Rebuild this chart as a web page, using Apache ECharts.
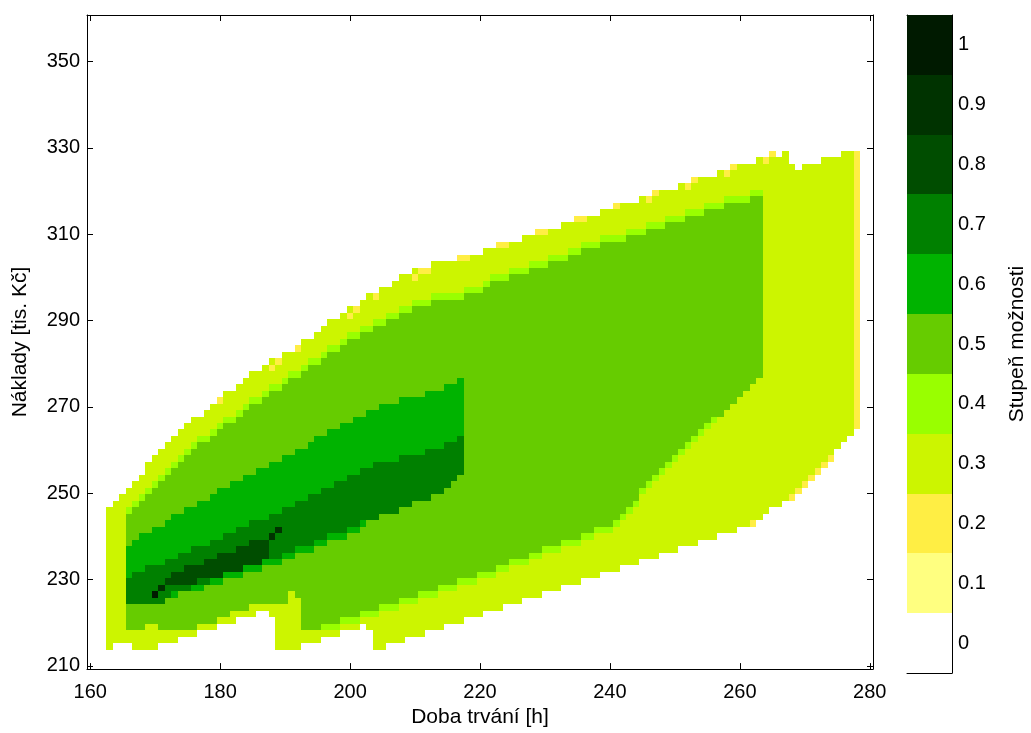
<!DOCTYPE html>
<html>
<head>
<meta charset="utf-8">
<script src="https://cdn.jsdelivr.net/npm/echarts@6/dist/echarts.min.js"></script>
<style>
  html, body { margin: 0; padding: 0; background: #ffffff; }
  #chart { width: 1031px; height: 733px; }
</style>
</head>
<body>
<div id="chart"></div>
<script>
// Possibility surface sampled on a regular grid:
// duration 160..280 h in steps of 1, cost 210..360 (tis. Kč) in steps of 1.5
const durationGrid = [160, 280, 1];
const costGrid = [210, 360, 1.5];

const xTicks = [160, 180, 200, 220, 240, 260, 280];
const yTicks = [210, 230, 250, 270, 290, 310, 330, 350];

const levels = [0, 0.1, 0.2, 0.3, 0.4, 0.5, 0.6, 0.7, 0.8, 0.9, 1];
const levelLabels = ['0', '0.1', '0.2', '0.3', '0.4', '0.5', '0.6', '0.7', '0.8', '0.9', '1'];
const levelColors = ['#ffffff', '#ffff80', '#ffee44', '#ccf500', '#99ff00', '#66cc00',
                     '#00b300', '#008000', '#004d00', '#003300', '#001a00'];

// Outlines [duration, cost] of the areas where the possibility reaches a level
const area02 = [[277.5, 264.75], [278.5, 264.75], [278.5, 329.25], [277.5, 329.25]];

const area03 = [
  [162.5, 213.75], [163.5, 213.75], [163.5, 215.25], [166.5, 215.25], [166.5, 213.75],
  [170.5, 213.75], [170.5, 215.25], [173.5, 215.25], [173.5, 216.75], [176.5, 216.75],
  [176.5, 218.25], [179.5, 218.25], [179.5, 219.75], [182.5, 219.75], [182.5, 221.25],
  [185.5, 221.25], [185.5, 222.75], [187.5, 222.75], [187.5, 221.25], [188.5, 221.25],
  [188.5, 213.75], [192.5, 213.75], [192.5, 215.25], [195.5, 215.25], [195.5, 216.75],
  [198.5, 216.75], [198.5, 218.25], [201.5, 218.25], [201.5, 219.75], [202.5, 219.75],
  [202.5, 218.25], [203.5, 218.25], [203.5, 213.75], [205.5, 213.75], [205.5, 214.5],
  [261.5, 242.5], [261.5, 242.25], [262.5, 242.25], [262.5, 243.75], [263.5, 243.75],
  [263.5, 245.25], [264.5, 245.25], [264.5, 246.75], [266.5, 246.75], [266.5, 247.5],
  [277.5, 264], [277.5, 329.25], [275.5, 329.25], [275.5, 327.75], [272.5, 327.75],
  [272.5, 326.25], [269.5, 326.25], [269.5, 324.75], [268.5, 324.75], [268.5, 326.25],
  [267.5, 326.25], [267.5, 329.25], [266.5, 329.25], [266.5, 327.75], [262.5, 327.75],
  [262.5, 326.25], [261, 326.25], [255, 323.25], [249, 320.25], [243, 317.25],
  [237, 314.25], [231, 311.25], [225, 308.25], [219, 305.25], [211, 302.25],
  [207, 299.25], [199, 291.75], [192, 284.25], [187, 279.75], [179, 270.75],
  [174, 264.75], [170, 258.75], [168, 254.25], [165, 249.75], [163, 246.75], [162.5, 246.75]
];

const area04 = [
  [165.5, 218.25], [168.5, 218.25], [168.5, 219.75], [170.5, 219.75], [170.5, 218.25],
  [176.5, 218.25], [176.5, 219.75], [179.5, 219.75], [179.5, 221.25], [181.5, 221.25],
  [181.5, 222.75], [184.5, 222.75], [184.5, 224.25], [190.5, 224.25], [190.5, 227.25],
  [191.5, 227.25], [191.5, 225.75], [192.5, 225.75], [192.5, 217.5], [195.5, 219.0],
  [195.5, 217.5], [219.5, 229.5], [241.5, 242.1], [242.5, 245.0], [252.5, 261.0],
  [263.5, 276.75], [263.5, 320.25], [259, 318.75], [257, 317.25], [253, 315.75],
  [251, 314.25], [247, 312.75], [245, 311.25], [241, 309.75], [237, 308.25],
  [235, 306.75], [233, 305.25], [229, 303.75], [223, 300.75], [221, 299.25],
  [220, 297.75], [210, 294.75], [199, 285.75], [187, 273.75], [176, 261.75],
  [166, 246.75], [165.5, 246.75]
];

const area05 = [
  [165.5, 218.25], [168.5, 218.25], [168.5, 219.75], [170.5, 219.75], [170.5, 218.25],
  [176.5, 218.25], [176.5, 219.75], [179.5, 219.75], [179.5, 221.25], [181.5, 221.25],
  [181.5, 222.75], [184.5, 222.75], [184.5, 224.25], [190.5, 224.25], [190.5, 227.25],
  [191.5, 227.25], [191.5, 225.75], [192.5, 225.75], [192.5, 217.5], [219.5, 231.0],
  [241.5, 243.6], [242.5, 246.5], [252.5, 262.5], [263.5, 276.75], [263.5, 318.75],
  [259, 317.25], [257, 315.75], [253, 314.25], [251, 312.75], [247, 311.25],
  [245, 309.75], [241, 308.25], [237, 306.75], [235, 305.25], [233, 303.75],
  [229, 302.25], [223, 299.25], [221, 297.75], [220, 296.25], [210, 293.25],
  [199, 284.25], [187, 272.25], [176, 260.25], [166, 245.25], [165.5, 245.25]
];

const area06 = [
  [165.5, 224.25], [165.5, 237.75], [170, 242], [180, 250.5], [190, 258.5],
  [200, 266.5], [205, 270.75], [210, 272.25], [214, 273.75], [216, 275.25],
  [217.5, 276.75], [217.5, 254.25], [214, 250.5], [205, 245], [200, 240.5],
  [190, 234.5], [180, 229], [172, 225.75], [171.5, 224.25]
];

const area07 = [
  [165.5, 224.25], [165.5, 230.25], [175, 236.5], [185, 243], [195, 250],
  [205, 257.25], [210, 258.75], [214, 260.25], [216, 261.75], [217.5, 263.25],
  [217.5, 254.25], [216.5, 252.75], [214, 250], [208, 246.5], [200, 242],
  [190, 236], [180, 230.5], [172, 226], [171.5, 224.25]
];

const area08 = [
  [171.5, 228.5], [171.5, 230.25], [179.5, 235.5], [187.5, 240.0],
  [187.5, 234.5], [179.5, 230.5], [173.5, 228.5]
];

// Single cells whose possibility differs from the surrounding area
const spotCells = [
  [180, 271.5, 0.2], [188, 279, 0.2], [189, 280.5, 0.2], [192, 283.5, 0.2],
  [200, 291, 0.2], [201, 292.5, 0.2], [204, 295.5, 0.2], [210, 300, 0.2],
  [211, 301.5, 0.2], [212, 301.5, 0.2], [217, 304.5, 0.2], [218, 304.5, 0.2],
  [223, 307.5, 0.2], [224, 307.5, 0.2], [229, 310.5, 0.2], [230, 310.5, 0.2],
  [235, 313.5, 0.2], [236, 313.5, 0.2], [241, 316.5, 0.2], [246, 318, 0.2],
  [247, 319.5, 0.2], [252, 321, 0.2], [253, 322.5, 0.2], [258, 324, 0.2],
  [259, 325.5, 0.2], [264, 327, 0.2], [265, 328.5, 0.2],
  [262, 243, 0.2], [268, 249, 0.2], [269, 250.5, 0.2], [270, 252, 0.2],
  [271, 253.5, 0.2], [272, 255, 0.2], [273, 256.5, 0.2], [274, 258, 0.2],
  [171, 228, 0.9], [188, 240, 0.9], [189, 241.5, 0.9],
  [170, 226.5, 1]
];

const areas = [
  [0.2, area02], [0.3, area03], [0.4, area04], [0.5, area05],
  [0.6, area06], [0.7, area07], [0.8, area08]
];

function contains(poly, x, y) {
  let inside = false;
  for (let i = 0, j = poly.length - 1; i < poly.length; j = i++) {
    const xi = poly[i][0], yi = poly[i][1], xj = poly[j][0], yj = poly[j][1];
    if ((yi > y) !== (yj > y) && x < (xj - xi) * (y - yi) / (yj - yi) + xi) inside = !inside;
  }
  return inside;
}

// Value of every grid cell, then vertical runs of equal value per column
const spotMap = {};
spotCells.forEach(function (s) {
  spotMap[s[0] + '|' + Math.round((s[1] - costGrid[0]) / costGrid[2])] = s[2];
});

const cellRuns = [];
const nRows = Math.round((costGrid[1] - costGrid[0]) / costGrid[2]);
for (let x = durationGrid[0]; x <= durationGrid[1]; x += durationGrid[2]) {
  let runStart = null, runVal = 0;
  for (let j = 0; j <= nRows + 1; j++) {
    let v = 0;
    if (j <= nRows) {
      const y = costGrid[0] + j * costGrid[2];
      areas.forEach(function (a) { if (contains(a[1], x, y)) v = a[0]; });
      const key = x + '|' + j;
      if (key in spotMap) v = spotMap[key];
    }
    if (v !== runVal) {
      if (runVal > 0) {
        cellRuns.push([x, costGrid[0] + runStart * costGrid[2], costGrid[0] + (j - 1) * costGrid[2], runVal]);
      }
      runStart = j; runVal = v;
    }
  }
}

function colorOf(v) {
  return levelColors[Math.round(v * 10)];
}

const FONT = '"Liberation Sans", Arial, Helvetica, sans-serif';
const black = '#000000';

function boxAxis(extra) {
  return Object.assign({
    type: 'value',
    gridIndex: 0,
    splitLine: { show: false },
    axisLine: { show: true, onZero: false, lineStyle: { color: black, width: 1 } },
    axisTick: { show: true, inside: true, length: 6, lineStyle: { color: black } },
    axisLabel: { show: false }
  }, extra);
}

const chart = echarts.init(document.getElementById('chart'), null, { renderer: 'canvas' });

chart.setOption({
  animation: false,
  backgroundColor: '#ffffff',
  textStyle: { fontFamily: FONT },
  grid: [
    { left: 87, top: 15, width: 786, height: 658, show: false },
    { left: 907, top: 15, width: 45, height: 658, show: false }
  ],
  xAxis: [
    boxAxis({
      min: 159.5, max: 280.5, position: 'bottom',
      axisTick: { show: true, inside: true, length: 6, customValues: xTicks, lineStyle: { color: black } },
      axisLabel: { show: true, customValues: xTicks, color: black, fontSize: 20, fontFamily: FONT, margin: 13 },
      name: 'Doba trvání [h]', nameLocation: 'middle', nameGap: 37,
      nameTextStyle: { color: black, fontSize: 21, fontFamily: FONT }
    }),
    boxAxis({
      min: 159.5, max: 280.5, position: 'top',
      axisTick: { show: true, inside: true, length: 6, customValues: xTicks, lineStyle: { color: black } }
    }),
    {
      type: 'category', gridIndex: 1, data: [''], position: 'bottom',
      axisLine: { show: true, lineStyle: { color: black } },
      axisTick: { show: false }, axisLabel: { show: false }, splitLine: { show: false }
    },
    {
      type: 'category', gridIndex: 1, data: [''], position: 'top',
      axisLine: { show: true, lineStyle: { color: black } },
      axisTick: { show: false }, axisLabel: { show: false }, splitLine: { show: false }
    }
  ],
  yAxis: [
    boxAxis({
      min: 209.25, max: 360.75, position: 'left',
      axisTick: { show: true, inside: true, length: 6, customValues: yTicks, lineStyle: { color: black } },
      axisLabel: { show: true, customValues: yTicks, color: black, fontSize: 20, fontFamily: FONT, margin: 7 },
      name: 'Náklady [tis. Kč]', nameLocation: 'middle', nameGap: 56, nameRotate: 90,
      nameTextStyle: { color: black, fontSize: 21, fontFamily: FONT }
    }),
    boxAxis({
      min: 209.25, max: 360.75, position: 'right',
      axisTick: { show: true, inside: true, length: 6, customValues: yTicks, lineStyle: { color: black } }
    }),
    {
      type: 'category', gridIndex: 1, data: levelLabels, position: 'right',
      axisLine: { show: true, lineStyle: { color: black } },
      axisTick: { show: true, inside: true, alignWithLabel: true, length: 4, lineStyle: { color: black } },
      axisLabel: { show: true, color: black, fontSize: 20, fontFamily: FONT, margin: 6 },
      splitLine: { show: false },
      name: 'Stupeň možnosti', nameLocation: 'middle', nameGap: 55, nameRotate: 90,
      nameTextStyle: { color: black, fontSize: 21, fontFamily: FONT }
    },
    {
      type: 'category', gridIndex: 1, data: levelLabels, position: 'left',
      axisLine: { show: true, lineStyle: { color: black } },
      axisTick: { show: true, inside: true, alignWithLabel: true, length: 4, lineStyle: { color: black } },
      axisLabel: { show: false }, splitLine: { show: false }
    }
  ],
  series: [
    {
      type: 'custom',
      name: 'Stupeň možnosti',
      coordinateSystem: 'cartesian2d',
      xAxisIndex: 0, yAxisIndex: 0,
      silent: true,
      clip: true,
      z: 1,
      encode: { x: 0, y: [1, 2] },
      data: cellRuns,
      renderItem: function (params, api) {
        const x = api.value(0), y0 = api.value(1), y1 = api.value(2), v = api.value(3);
        const a = api.coord([x - durationGrid[2] / 2, y0 - costGrid[2] / 2]);
        const b = api.coord([x + durationGrid[2] / 2, y1 + costGrid[2] / 2]);
        const left = Math.round(a[0]), right = Math.round(b[0]);
        const top = Math.round(b[1]), bottom = Math.round(a[1]);
        return {
          type: 'rect',
          shape: { x: left, y: top, width: right - left, height: bottom - top },
          style: { fill: colorOf(v) }
        };
      }
    },
    {
      type: 'custom',
      name: 'colorbar',
      coordinateSystem: 'cartesian2d',
      xAxisIndex: 2, yAxisIndex: 2,
      silent: true,
      z: 1,
      data: levels.map(function (v, i) { return [0, i, v]; }),
      renderItem: function (params, api) {
        const c = api.coord([0, api.value(1)]);
        const s = api.size([1, 1]);
        const left = Math.round(c[0] - s[0] / 2), right = Math.round(c[0] + s[0] / 2);
        const top = Math.round(c[1] - s[1] / 2), bottom = Math.round(c[1] + s[1] / 2);
        return {
          type: 'rect',
          shape: { x: left, y: top, width: right - left, height: bottom - top },
          style: { fill: colorOf(api.value(2)) }
        };
      }
    }
  ]
});
</script>
</body>
</html>
